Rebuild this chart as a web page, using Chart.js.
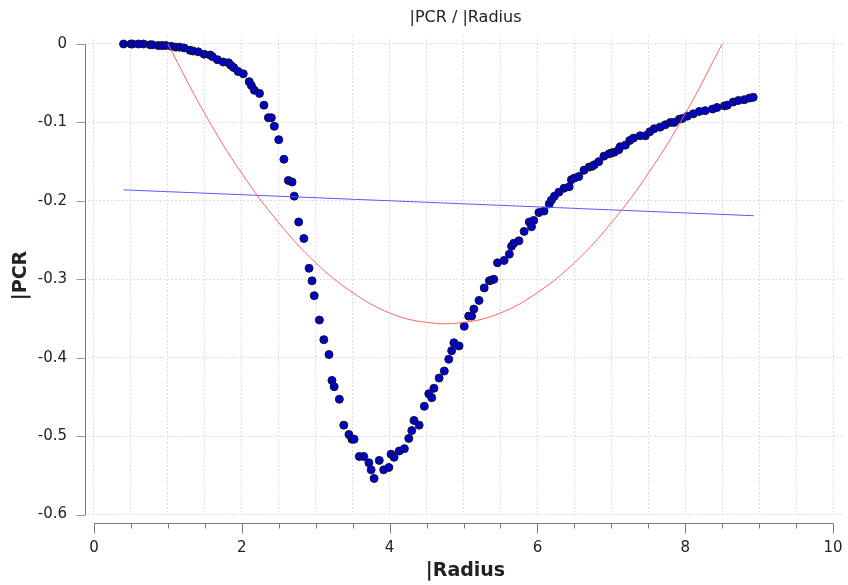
<!DOCTYPE html>
<html>
<head>
<meta charset="utf-8">
<script src="https://cdn.jsdelivr.net/npm/chart.js@4.4.0/dist/chart.umd.min.js"></script>
<style>
html, body { margin: 0; padding: 0; background: #fff; }
</style>
</head>
<body>
<canvas id="MainChart" width="848" height="585"></canvas>
<script>
// measured points
var radius = [0.40, 0.50, 0.52, 0.60, 0.67, 0.76, 0.79, 0.87, 0.92, 0.97, 1.05, 1.11, 1.16, 1.22, 1.30, 1.34, 1.41, 1.49, 1.57, 1.60,
    1.67, 1.75, 1.82, 1.85, 1.89, 1.95, 2.02, 2.10, 2.13, 2.17, 2.24, 2.30, 2.36, 2.40, 2.44, 2.50, 2.57, 2.63, 2.68, 2.71,
    2.77, 2.84, 2.91, 2.95, 2.98, 3.05, 3.11, 3.18, 3.22, 3.25, 3.32, 3.38, 3.45, 3.49, 3.52, 3.59, 3.65, 3.72, 3.75, 3.79,
    3.86, 3.92, 3.99, 4.02, 4.06, 4.13, 4.20, 4.26, 4.30, 4.33, 4.40, 4.47, 4.53, 4.57, 4.60, 4.67, 4.74, 4.80, 4.84, 4.87,
    4.94, 5.01, 5.07, 5.11, 5.14, 5.21, 5.28, 5.35, 5.38, 5.41, 5.46, 5.55, 5.62, 5.65, 5.68, 5.75, 5.82, 5.89, 5.92, 5.95,
    6.02, 6.09, 6.16, 6.19, 6.23, 6.29, 6.36, 6.43, 6.46, 6.50, 6.56, 6.63, 6.70, 6.74, 6.77, 6.83, 6.90, 6.97, 7.00, 7.04,
    7.10, 7.12, 7.19, 7.25, 7.30, 7.39, 7.46, 7.52, 7.58, 7.66, 7.73, 7.80, 7.85, 7.92, 7.96, 8.03, 8.11, 8.19, 8.27, 8.37,
    8.43, 8.53, 8.57, 8.65, 8.72, 8.80, 8.87, 8.92];
var pcr = [0.000, 0.000, 0.000, 0.000, 0.000, -0.001, -0.001, -0.002, -0.002, -0.002, -0.003, -0.004, -0.004, -0.005, -0.008, -0.009, -0.010, -0.013, -0.014, -0.016,
    -0.020, -0.023, -0.024, -0.027, -0.030, -0.035, -0.038, -0.048, -0.053, -0.059, -0.063, -0.078, -0.094, -0.094, -0.105, -0.122, -0.147, -0.174, -0.176, -0.194,
    -0.227, -0.248, -0.286, -0.302, -0.321, -0.352, -0.377, -0.396, -0.429, -0.437, -0.453, -0.486, -0.498, -0.504, -0.504, -0.526, -0.526, -0.534, -0.543, -0.554,
    -0.531, -0.543, -0.540, -0.523, -0.527, -0.519, -0.516, -0.503, -0.493, -0.480, -0.486, -0.462, -0.446, -0.451, -0.439, -0.426, -0.417, -0.402, -0.391, -0.381,
    -0.385, -0.360, -0.347, -0.347, -0.338, -0.327, -0.311, -0.302, -0.301, -0.300, -0.279, -0.276, -0.268, -0.258, -0.254, -0.251, -0.239, -0.227, -0.233, -0.225,
    -0.215, -0.213, -0.204, -0.199, -0.194, -0.189, -0.184, -0.182, -0.173, -0.171, -0.169, -0.161, -0.157, -0.156, -0.154, -0.150, -0.143, -0.140, -0.139, -0.138,
    -0.135, -0.131, -0.129, -0.123, -0.120, -0.117, -0.117, -0.112, -0.108, -0.106, -0.103, -0.100, -0.100, -0.096, -0.095, -0.092, -0.089, -0.086, -0.085, -0.083,
    -0.081, -0.079, -0.078, -0.074, -0.072, -0.071, -0.069, -0.068];

// red fit curve
var fitX = [1.0, 1.5, 2.0, 2.5, 3.0, 3.5, 4.0, 4.5, 5.0, 5.5, 6.0, 6.5, 7.0, 7.5, 8.0, 8.5];
var fitY = [0.000, -0.089, -0.165, -0.228, -0.279, -0.317, -0.343, -0.355, -0.355, -0.343, -0.317, -0.279, -0.228, -0.165, -0.089, 0.000];

// blue straight line
var linX = [0.40, 8.93];
var linY = [-0.186, -0.219];

// ticks
var xTicks = [0, 0.5, 1, 1.5, 2, 2.5, 3, 3.5, 4, 4.5, 5, 5.5, 6, 6.5, 7, 7.5, 8, 8.5, 9, 9.5, 10];
var xLabels = [0, 2, 4, 6, 8, 10];
var yTicks = [0, -0.1, -0.2, -0.3, -0.4, -0.5, -0.6];
var chartTitle = '|PCR / |Radius';

function pts(xs, ys) {
    return xs.map(function (x, i) { return { x: x, y: ys[i] }; });
}

Chart.defaults.font.family = "'DejaVu Sans', sans-serif";
Chart.defaults.color = '#222';

// title over the plot area + detached axis lines like the original plot
var axisLines = {
    id: 'axisLines',
    afterDraw: function (chart) {
        var c = chart.ctx, xs = chart.scales.x, ys = chart.scales.y, a = chart.chartArea;
        c.save();
        c.fillStyle = '#222';
        c.font = "16px 'DejaVu Sans', sans-serif";
        c.textAlign = 'center';
        c.textBaseline = 'middle';
        c.fillText(chartTitle, (a.left + a.right) / 2, 18);

        var ax = Math.round(a.left - 3) + 0.5;
        var yTop = ys.getPixelForValue(yTicks[0]);
        var yBot = ys.getPixelForValue(yTicks[yTicks.length - 1]);
        var ay = Math.round(yBot + 8.5) + 0.5;
        var x0 = xs.getPixelForValue(xTicks[0]);
        var x1 = xs.getPixelForValue(xTicks[xTicks.length - 1]);
        c.lineWidth = 1;
        c.strokeStyle = '#7a7a7a';
        c.beginPath();
        c.moveTo(ax, yTop); c.lineTo(ax, yBot + 0.5);
        c.moveTo(x0, ay); c.lineTo(x1 + 0.5, ay);
        c.stroke();
        c.strokeStyle = '#999';
        c.beginPath();
        yTicks.forEach(function (v) {
            var p = Math.round(ys.getPixelForValue(v)) + 0.5;
            c.moveTo(ax - 9, p); c.lineTo(ax, p);
        });
        c.stroke();
        c.strokeStyle = '#7a7a7a';
        c.beginPath();
        xTicks.forEach(function (v) {
            var p = Math.round(xs.getPixelForValue(v)) + 0.5;
            var len = xLabels.indexOf(v) >= 0 ? 10 : 5;
            c.moveTo(p, ay); c.lineTo(p, ay + len);
        });
        c.stroke();
        c.restore();
    }
};

var ctx = document.getElementById('MainChart').getContext('2d');
var MainChart = new Chart(ctx, {
    type: 'scatter',
    data: {
        datasets: [
            {
                label: 'fit',
                data: pts(fitX, fitY),
                showLine: true,
                borderColor: 'rgb(255, 100, 100)',
                borderWidth: 1,
                tension: 0.4,
                pointRadius: 0,
                fill: false
            },
            {
                label: 'linear',
                data: pts(linX, linY),
                showLine: true,
                borderColor: 'rgb(90, 90, 255)',
                borderWidth: 1,
                pointRadius: 0,
                fill: false
            },
            {
                label: '|PCR',
                data: pts(radius, pcr),
                backgroundColor: 'rgb(0, 0, 200)',
                borderColor: 'rgb(20, 20, 50)',
                borderWidth: 1,
                pointRadius: 4
            }
        ]
    },
    options: {
        responsive: false,
        animation: false,
        layout: { padding: { left: 0, right: 5, top: 36, bottom: 0 } },
        plugins: {
            legend: { display: false },
            tooltip: { enabled: false },
            title: { display: false }
        },
        scales: {
            x: {
                type: 'linear',
                min: -0.081,
                max: 10.135,
                afterBuildTicks: function (s) { s.ticks = xTicks.map(function (v) { return { value: v }; }); },
                afterFit: function (s) { s.height = 70; s.paddingLeft = 0; s.paddingRight = 0; },
                border: { display: false, dash: [1.5, 2.3] },
                grid: { color: '#d4d4d4', drawTicks: false },
                ticks: {
                    padding: 24,
                    font: { size: 15 },
                    color: '#222',
                    maxRotation: 0,
                    autoSkip: false,
                    callback: function (v) { return xLabels.indexOf(v) >= 0 ? String(v) : ''; }
                },
                title: {
                    display: true,
                    text: '|Radius',
                    font: { size: 19, weight: 'bold' },
                    color: '#222',
                    padding: { top: 0, bottom: 3 }
                }
            },
            y: {
                type: 'linear',
                min: -0.6006,
                max: 0.0102,
                afterBuildTicks: function (s) { s.ticks = yTicks.map(function (v) { return { value: v }; }); },
                afterFit: function (s) { s.width = 88; s.paddingTop = 0; s.paddingBottom = 0; },
                border: { display: false, dash: [1.5, 2.3] },
                grid: { color: '#d4d4d4', drawTicks: false },
                ticks: {
                    padding: 21,
                    font: { size: 15 },
                    color: '#222',
                    autoSkip: false,
                    callback: function (v) { return String(Math.round(v * 10) / 10); }
                },
                title: {
                    display: true,
                    text: '|PCR',
                    font: { size: 19, weight: 'bold' },
                    color: '#222',
                    padding: { top: 10, bottom: 0 }
                }
            }
        }
    },
    plugins: [axisLines]
});
</script>
</body>
</html>
